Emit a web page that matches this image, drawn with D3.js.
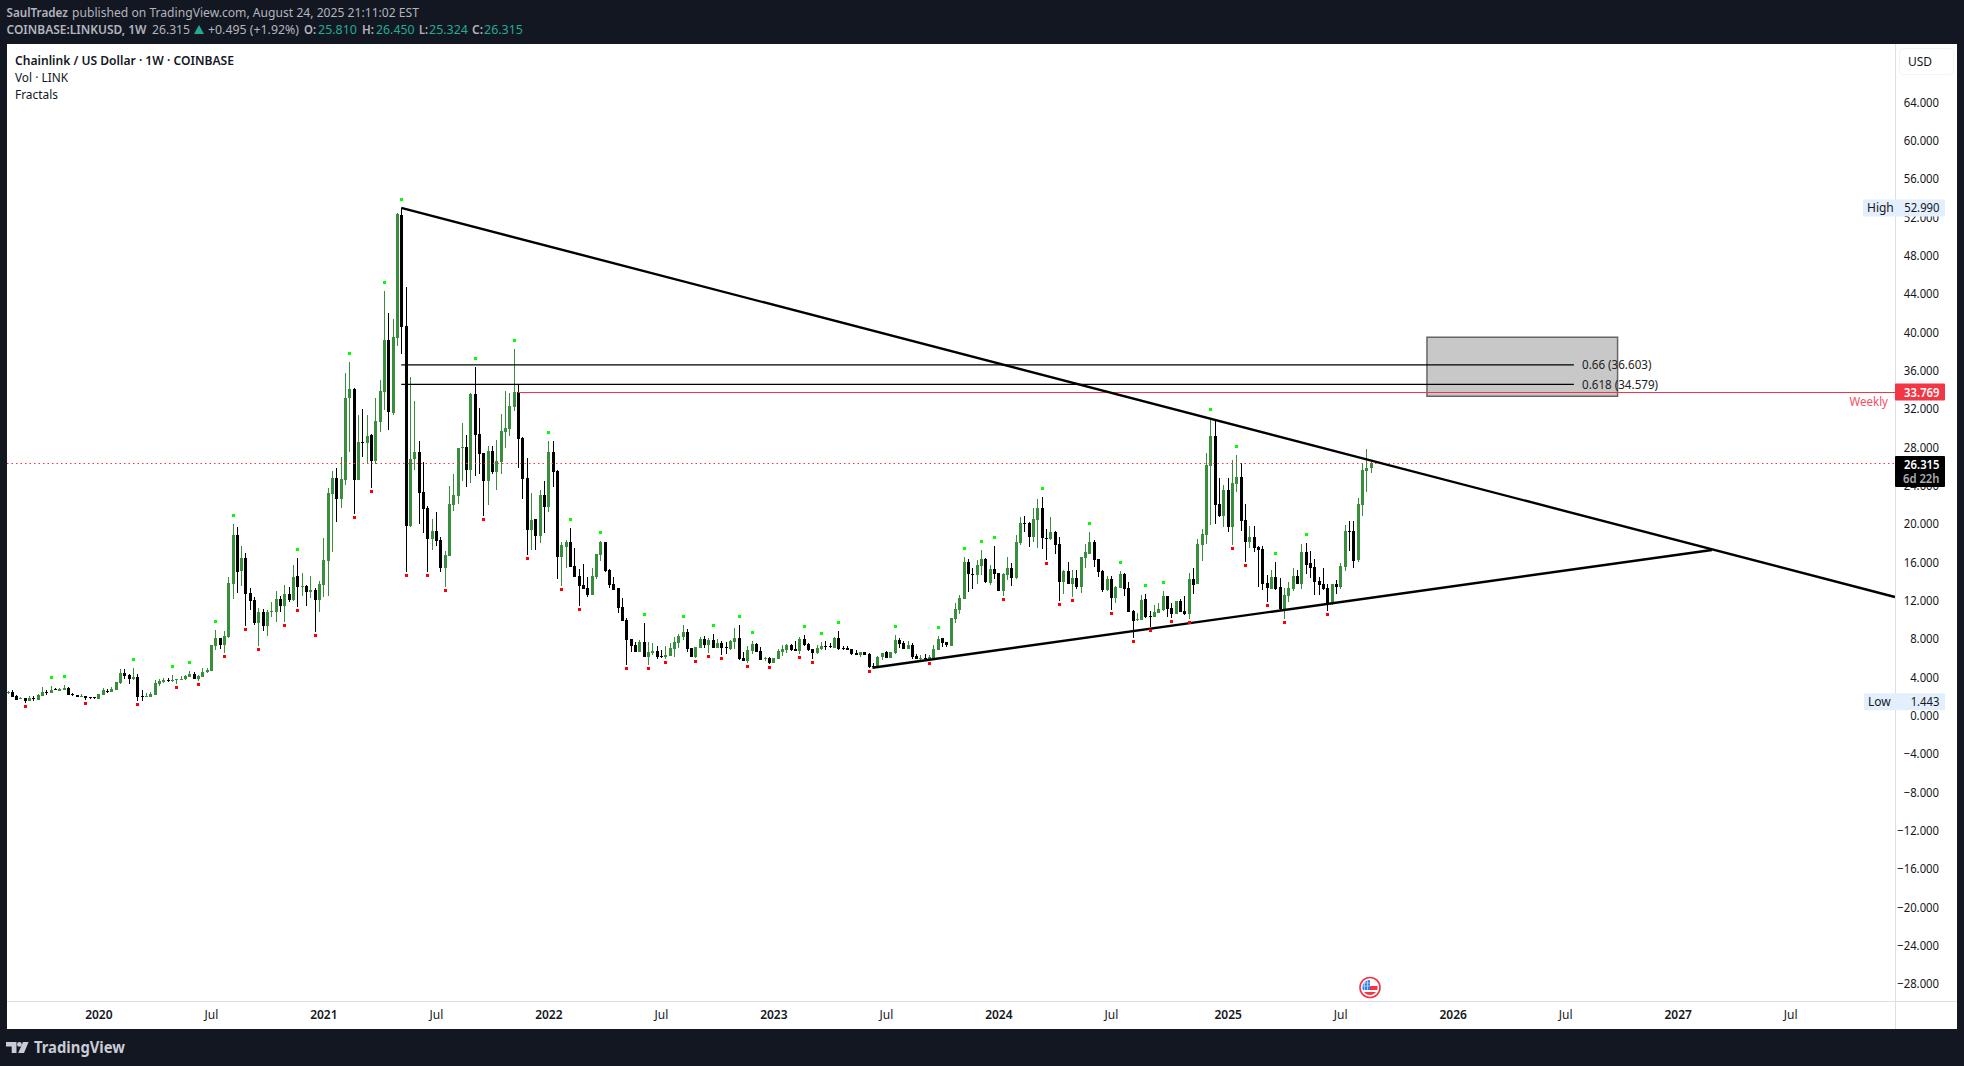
<!DOCTYPE html>
<html>
<head>
<meta charset="utf-8">
<script src="https://d3js.org/d3.v7.min.js"></script>
<style>
  html, body { margin: 0; padding: 0; background: #131722; }
  svg { display: block; }
  text { font-family: "Noto Sans", sans-serif; }
</style>
</head>
<body>
<script>
var w = 1964;
var h = 1066;

// weekly candles, one row = ten weeks
var opens = [
  2.40,2.45,2.09,1.80,1.79,1.54,1.83,1.68,2.09,2.44,
  2.38,2.73,2.60,2.67,2.89,2.25,2.12,2.03,2.01,1.89,
  1.89,1.76,2.20,2.58,2.49,2.71,3.41,4.47,4.25,3.77,
  4.03,2.07,2.03,1.98,2.20,3.33,3.52,3.76,3.70,3.75,
  3.79,3.77,4.03,4.32,3.81,4.06,4.50,4.69,7.25,8.09,
  7.40,8.20,13.73,18.86,15.09,16.44,12.82,12.08,9.67,10.80,
  9.30,10.85,10.80,12.16,11.46,12.71,12.08,14.57,13.37,13.51,
  12.85,13.11,12.08,13.62,16.15,23.14,24.79,22.56,24.61,33.17,
  34.09,24.61,28.56,28.45,29.29,26.58,30.65,33.80,39.22,31.60,
  39.44,52.25,40.68,19.77,26.73,27.54,23.36,21.68,18.38,19.26,
  18.34,15.45,16.66,21.97,22.92,27.95,28.05,25.67,33.58,29.40,
  27.43,24.53,27.61,25.45,26.47,29.60,29.92,32.21,33.77,28.98,
  24.79,19.37,20.49,18.75,23.03,21.77,27.52,25.53,16.55,17.60,
  18.12,15.61,14.57,13.62,13.32,12.59,14.43,16.76,18.12,15.20,
  13.73,13.32,11.33,9.97,7.96,7.36,6.63,7.68,6.12,6.53,
  6.74,6.22,6.12,6.22,6.95,7.57,8.20,8.73,7.05,6.12,
  7.05,8.00,7.36,7.89,7.05,7.58,7.18,6.95,7.68,8.10,
  6.01,5.70,6.74,7.47,6.74,5.90,6.01,5.49,5.91,6.63,
  6.85,7.36,6.95,6.74,8.00,7.47,6.95,6.53,6.95,7.29,
  7.29,7.05,8.10,7.03,7.05,6.95,6.53,6.33,6.63,6.43,
  5.22,5.18,6.12,6.63,6.01,6.53,7.89,7.58,6.95,7.36,
  6.22,5.94,5.97,5.80,6.01,6.85,8.10,7.68,7.26,10.08,
  11.02,12.16,16.03,14.83,14.67,15.61,16.35,13.84,15.30,14.88,
  13.01,14.67,15.41,14.36,18.02,20.10,20.10,18.64,20.41,21.67,
  18.56,18.43,19.16,17.91,13.94,15.09,13.73,14.36,13.42,16.45,
  16.86,18.12,16.34,15.09,13.11,14.25,12.27,13.32,14.78,13.32,
  10.92,9.98,9.98,12.17,10.43,10.29,10.71,11.02,12.48,11.23,
  10.60,11.96,10.92,10.60,14.25,13.73,17.80,18.85,26.09,29.18,
  22.05,20.83,23.55,19.69,24.17,24.91,20.41,18.12,18.64,17.60,
  17.39,13.84,13.21,14.46,13.42,11.02,12.48,13.21,14.57,13.73,
  17.07,15.93,15.51,14.05,13.73,13.32,11.65,13.73,13.42,15.51,
  19.27,19.27,16.24,21.98,25.53,25.81
];
var highs = [
  2.55,2.67,2.15,1.95,1.82,2.05,2.05,2.25,3.00,2.64,
  3.08,2.89,2.90,3.19,3.00,2.38,2.15,2.23,2.03,1.90,
  1.90,2.25,2.89,2.78,3.00,3.55,4.87,4.83,4.39,4.98,
  4.36,2.67,2.31,2.42,3.70,3.77,3.88,3.95,4.25,3.80,
  4.17,4.20,4.61,4.54,4.20,4.98,4.98,7.40,8.93,8.15,
  8.82,14.46,19.99,19.70,17.72,16.99,13.33,12.38,11.24,11.13,
  11.02,11.86,13.00,12.49,13.62,13.44,15.71,16.44,14.90,13.60,
  14.54,13.33,14.06,18.53,23.76,25.52,25.81,26.99,35.77,36.91,
  34.16,31.38,32.00,31.38,29.37,33.17,35.04,44.34,42.04,41.41,
  52.47,52.99,44.75,35.33,32.84,28.67,26.47,21.90,20.54,21.24,
  18.64,17.17,23.98,25.23,27.90,30.54,29.29,33.69,36.40,32.11,
  27.43,28.16,28.16,28.74,31.47,33.88,33.67,38.23,34.58,29.05,
  26.89,23.23,20.55,23.55,24.48,28.70,28.66,25.60,18.12,18.33,
  19.58,17.49,15.30,15.82,14.46,15.40,16.90,18.20,18.12,15.27,
  14.46,13.32,12.27,10.19,7.98,7.68,7.85,9.67,7.65,7.58,
  7.26,6.85,7.26,7.58,8.20,8.52,9.46,9.04,7.10,7.20,
  8.20,8.31,8.10,8.52,8.00,7.79,7.68,7.89,9.14,9.46,
  6.64,7.26,7.79,7.58,7.16,6.12,6.12,6.01,6.95,7.36,
  7.47,7.47,7.79,8.20,8.41,7.58,6.95,7.36,7.68,7.79,
  7.54,8.20,8.83,7.26,7.26,6.95,6.85,6.60,6.63,6.53,
  5.49,6.22,6.53,6.74,6.63,8.41,8.10,7.79,7.79,7.58,
  6.43,6.33,6.43,6.33,7.36,8.31,8.10,7.68,10.19,11.75,
  12.59,16.55,16.34,15.41,16.24,17.28,16.45,15.72,17.70,14.88,
  14.90,16.55,15.90,18.84,20.73,20.83,20.21,21.67,22.60,22.81,
  19.48,20.73,19.27,18.64,15.20,16.03,15.20,15.20,16.55,17.91,
  19.16,18.33,16.34,15.20,14.57,14.57,13.53,15.09,14.88,13.94,
  11.02,10.71,12.59,12.69,10.92,11.54,11.75,13.00,12.48,11.75,
  11.96,12.17,12.48,14.88,15.41,18.43,19.47,27.37,31.03,30.85,
  24.77,24.07,24.77,26.68,27.20,26.36,22.08,19.79,19.79,17.70,
  17.70,14.67,15.20,16.03,14.36,13.32,13.94,15.41,15.20,17.91,
  18.01,17.18,16.34,14.46,15.41,13.73,13.73,14.15,15.93,19.89,
  20.31,20.31,22.71,26.26,27.81,26.45
];
var lows = [
  2.23,1.94,1.68,1.75,1.35,1.50,1.57,1.65,2.05,2.16,
  2.35,2.67,2.55,2.65,2.20,2.05,1.98,1.98,1.68,1.72,
  1.72,1.74,2.18,2.31,2.45,2.69,3.33,3.84,3.33,3.75,
  1.57,1.57,1.98,1.95,2.18,3.04,3.44,3.52,3.52,3.30,
  3.75,3.75,4.00,3.84,3.63,4.03,4.48,4.67,6.88,6.99,
  6.55,8.13,12.16,12.82,13.55,9.30,11.06,9.48,7.29,8.82,
  8.35,10.29,9.81,10.77,9.81,11.86,12.01,11.35,12.49,11.46,
  12.27,8.71,10.84,12.38,12.49,17.06,20.21,21.68,24.02,27.54,
  21.05,24.61,26.99,26.33,23.76,26.25,29.62,31.89,29.81,31.38,
  38.59,37.75,14.98,19.70,25.67,19.99,19.08,14.98,17.28,17.65,
  14.98,13.44,16.66,21.38,22.08,24.50,23.87,24.28,25.01,25.23,
  20.83,21.97,25.23,23.54,25.21,27.93,29.18,31.80,25.88,22.60,
  16.76,17.28,17.28,18.01,19.05,21.25,23.86,14.26,13.53,15.37,
  15.50,14.46,11.43,13.21,12.38,12.59,14.26,16.15,14.98,13.32,
  13.11,10.74,9.86,5.28,6.66,6.63,6.63,6.12,5.25,6.29,
  5.94,6.05,5.87,6.22,6.12,7.05,7.89,6.63,6.12,6.00,
  7.05,7.05,6.53,7.05,7.05,6.33,6.43,6.85,6.95,5.80,
  5.70,5.49,6.43,6.63,5.80,5.70,5.38,5.49,5.91,6.22,
  6.53,6.74,6.74,6.43,7.26,6.74,5.91,6.43,6.85,6.85,
  7.05,7.05,6.85,6.85,6.85,6.33,6.33,6.12,6.33,4.96,
  4.96,5.18,5.80,6.01,6.01,6.43,7.05,6.95,6.95,5.91,
  5.91,5.73,5.80,5.80,5.91,6.85,7.16,7.16,7.26,9.66,
  10.60,12.16,12.91,13.21,13.73,14.67,13.84,13.63,14.25,13.01,
  12.49,14.15,13.53,14.25,17.80,19.16,17.60,18.12,17.49,17.39,
  16.24,18.33,16.86,11.96,12.69,13.73,12.38,13.21,12.80,15.41,
  16.86,15.50,14.46,12.90,13.00,11.02,11.75,13.32,12.49,10.81,
  8.10,9.87,9.98,10.19,9.25,10.29,10.71,10.92,10.29,10.19,
  10.60,10.81,10.50,10.08,12.69,13.73,16.14,17.90,19.89,19.99,
  20.72,19.69,19.20,17.80,23.33,19.27,16.03,17.49,17.07,13.42,
  13.11,11.86,13.21,13.11,10.92,10.08,11.86,13.00,13.73,13.21,
  14.78,14.36,12.59,12.59,13.11,10.91,11.50,12.69,13.21,15.09,
  17.18,15.41,16.03,20.83,23.33,25.32
];
var closes = [
  2.45,1.94,1.68,1.85,1.50,1.83,1.72,2.16,2.45,2.40,
  2.67,2.69,2.82,2.89,2.20,2.21,1.98,2.07,1.87,1.85,
  1.85,2.23,2.67,2.54,2.78,3.52,4.47,4.17,3.77,4.03,
  1.98,2.03,2.07,2.23,3.41,3.63,3.73,3.72,3.76,3.79,
  3.83,4.14,4.36,3.84,4.14,4.54,4.76,7.36,8.09,7.36,
  8.31,13.84,18.86,15.01,16.44,12.74,12.01,9.70,10.80,9.30,
  10.80,10.93,12.16,11.46,12.71,12.08,14.46,13.37,13.51,12.85,
  13.07,12.08,13.73,16.26,23.25,24.79,22.56,24.72,33.17,34.09,
  24.61,28.56,28.48,29.18,26.58,30.76,33.87,39.22,31.64,39.51,
  52.40,40.61,19.81,26.80,27.54,23.25,21.60,18.38,19.26,18.23,
  15.42,16.77,22.08,23.03,27.90,28.01,25.67,33.58,29.33,27.32,
  24.53,27.61,25.45,26.58,29.70,30.01,32.31,33.77,28.87,24.69,
  19.37,20.41,18.75,23.03,21.77,27.52,25.43,16.55,17.80,18.12,
  15.50,14.46,13.53,13.21,12.59,14.57,16.86,18.12,15.09,13.62,
  13.11,11.23,9.86,7.89,7.26,6.63,7.68,6.12,6.60,6.74,
  6.12,6.16,6.33,7.05,7.68,8.31,8.73,6.95,6.12,7.15,
  8.00,7.36,7.89,7.05,7.58,7.05,7.12,7.79,8.10,5.91,
  5.70,6.85,7.47,6.63,5.80,5.97,5.49,5.97,6.74,6.95,
  7.36,6.85,6.74,8.00,7.36,6.85,6.53,7.05,7.26,7.24,
  7.24,8.10,6.95,6.98,6.85,6.43,6.33,6.60,6.33,5.07,
  5.18,6.12,6.50,6.01,6.63,7.89,7.47,6.95,7.36,6.12,
  5.91,5.99,5.92,6.12,6.95,8.00,7.58,7.36,10.19,11.12,
  12.27,16.03,14.78,14.78,15.72,16.35,13.94,15.30,14.78,13.01,
  14.78,15.41,14.36,18.12,20.10,20.03,18.64,20.52,21.67,18.53,
  18.50,19.16,17.80,13.94,15.09,13.73,14.36,13.42,16.55,17.07,
  18.12,16.24,14.98,13.11,14.25,12.27,13.42,14.78,13.21,10.81,
  9.87,10.08,12.06,10.29,10.36,10.81,11.12,12.48,11.12,10.60,
  11.96,10.81,10.60,14.25,13.63,17.91,18.96,26.19,29.18,21.98,
  20.83,23.55,19.72,24.28,24.91,20.32,18.12,18.64,17.49,17.28,
  13.73,13.32,14.46,13.21,11.13,12.59,13.32,14.57,13.73,17.07,
  15.72,15.41,13.94,13.63,13.21,11.65,13.73,13.42,15.62,19.27,
  19.20,16.14,22.08,25.63,25.84,26.315
];

// weeks that carry a fractal mark
var fractalUp = [10,13,29,38,42,48,52,67,79,87,91,108,117,125,130,137,147,156,163,169,172,184,188,192,205,215,221,225,228,239,250,257,263,267,278,284,293,300];
var fractalDown = [4,18,30,39,44,50,55,58,64,67,71,80,84,92,97,101,110,120,128,132,143,148,152,159,162,165,171,176,183,186,199,213,230,240,243,246,255,260,264,269,273,283,286,291,295,305];

// axis ticks
var priceTicks = [64,60,56,52,48,44,40,36,32,28,24,20,16,12,8,4,0,-4,-8,-12,-16,-20,-24,-28];
var timeTickWeeks = [21,47,73,99,125,151,177,203,229,255,282,308,334,360,386,412];
var timeTickLabels = ["2020","Jul","2021","Jul","2022","Jul","2023","Jul","2024","Jul","2025","Jul","2026","Jul","2027","Jul"];

// drawings, as [week, price]
var fallingLine = [[91,52.99],[436.2,12.38]];
var risingLine = [[199.9,5.0],[393.9,17.29]];
var fibLevels = [0.66,0.618];
var fibPrices = [36.603,34.579];
var fibStartWeek = 91;
var fibEndWeek = 362;
var boxWeeks = [328.05,372.1];
var boxPrices = [39.49,33.33];
var weeklyLevel = 33.769;
var weeklyStartWeek = 118;
var lastPrice = 26.315;
var highPrice = 52.99;
var lowPrice = 1.443;

var upColor = "#388e3c";
var downColor = "#000000";
var bg = "#131722";
var red = "#f23645";

var left = 7, top_ = 44, right = 1957, bottom = 1029, plotRight = 1895, timeTop = 1001;

var x = d3.scaleLinear().domain([0,315]).range([7.5,1370.5]);
var y = d3.scaleLinear().domain([0,64]).range([715.6,102.4]);

var svg = d3.select("body").append("svg")
  .attr("width", w)
  .attr("height", h);

// squeeze text sideways, the original font runs narrower than Noto Sans
function squeeze(sel, k) {
  sel.each(function() {
    d3.select(this)
      .attr("textLength", this.getComputedTextLength() * k)
      .attr("lengthAdjust", "spacingAndGlyphs");
  });
  return sel;
}
function fitTo(sel, len) {
  return sel.attr("textLength", len).attr("lengthAdjust", "spacingAndGlyphs");
}

svg.append("rect").attr("width", w).attr("height", h).attr("fill", bg);
svg.append("rect")
  .attr("x", left).attr("y", top_)
  .attr("width", right-left).attr("height", bottom-top_)
  .attr("fill", "#fff");

// grey box behind everything else
svg.append("rect")
  .attr("x", x(boxWeeks[0])).attr("y", y(boxPrices[0]))
  .attr("width", x(boxWeeks[1])-x(boxWeeks[0]))
  .attr("height", y(boxPrices[1])-y(boxPrices[0]))
  .attr("fill", "#c8c8c8")
  .attr("stroke", "#666")
  .attr("stroke-width", 1.5);

var weeks = d3.range(opens.length);
var candle = svg.append("g").attr("shape-rendering", "crispEdges");
function col(i) { return closes[i] >= opens[i] ? upColor : downColor; }

candle.selectAll(".wick")
  .data(weeks)
  .enter()
  .append("rect")
  .attr("class", "wick")
  .attr("x", function(i) { return Math.round(x(i)); })
  .attr("y", function(i) { return y(highs[i]); })
  .attr("width", 1)
  .attr("height", function(i) { return y(lows[i]) - y(highs[i]); })
  .attr("fill", col);

candle.selectAll(".body")
  .data(weeks)
  .enter()
  .append("rect")
  .attr("class", "body")
  .attr("x", function(i) { return Math.round(x(i)) - 1; })
  .attr("y", function(i) { return y(Math.max(opens[i],closes[i])); })
  .attr("width", 3)
  .attr("height", function(i) { return Math.max(1, Math.abs(y(opens[i]) - y(closes[i]))); })
  .attr("fill", col);

// dotted last price line and weekly level
svg.append("line")
  .attr("x1", left).attr("x2", plotRight)
  .attr("y1", Math.round(y(lastPrice))+0.5).attr("y2", Math.round(y(lastPrice))+0.5)
  .attr("stroke", red).attr("stroke-dasharray", "1.5 3");
svg.append("line")
  .attr("x1", x(weeklyStartWeek)).attr("x2", plotRight)
  .attr("y1", Math.round(y(weeklyLevel))+0.5).attr("y2", Math.round(y(weeklyLevel))+0.5)
  .attr("stroke", red);

// fib levels
svg.selectAll(".fib")
  .data(fibPrices)
  .enter()
  .append("line")
  .attr("class", "fib")
  .attr("x1", x(fibStartWeek)).attr("x2", x(fibEndWeek))
  .attr("y1", function(d) { return y(d); })
  .attr("y2", function(d) { return y(d); })
  .attr("stroke", "#000")
  .attr("stroke-width", 1.2);
var fibText = svg.selectAll(".fibLabel")
  .data(fibPrices)
  .enter()
  .append("text")
  .attr("class", "fibLabel")
  .attr("x", 1582)
  .attr("y", function(d) { return y(d) + 4.5; })
  .attr("font-size", 12.5)
  .attr("fill", "#222")
  .text(function(d,i) { return fibLevels[i] + " (" + d.toFixed(3) + ")"; });
squeeze(fibText, 0.93);

// trend lines
var trend = d3.line()
  .x(function(d) { return x(d[0]); })
  .y(function(d) { return y(d[1]); });
svg.selectAll(".trend")
  .data([fallingLine, risingLine])
  .enter()
  .append("path")
  .attr("class", "trend")
  .attr("d", trend)
  .attr("fill", "none")
  .attr("stroke", "#000")
  .attr("stroke-width", 2.4);

// fractals
var marks = svg.append("g").attr("shape-rendering", "crispEdges");
marks.selectAll(".up")
  .data(fractalUp)
  .enter()
  .append("rect")
  .attr("class", "up")
  .attr("x", function(i) { return Math.round(x(i)) - 1; })
  .attr("y", function(i) { return Math.round(y(highs[i])) - 10; })
  .attr("width", 3).attr("height", 3)
  .attr("fill", "#00ff00");
marks.selectAll(".down")
  .data(fractalDown)
  .enter()
  .append("rect")
  .attr("class", "down")
  .attr("x", function(i) { return Math.round(x(i)) - 1; })
  .attr("y", function(i) { return Math.round(y(lows[i])) + 2; })
  .attr("width", 3).attr("height", 3)
  .attr("fill", "#ff0000");

// axes
svg.append("line").attr("x1", plotRight+0.5).attr("x2", plotRight+0.5)
  .attr("y1", top_).attr("y2", bottom).attr("stroke", "#dcdfe6");
svg.append("line").attr("x1", left).attr("x2", right)
  .attr("y1", timeTop+0.5).attr("y2", timeTop+0.5).attr("stroke", "#dcdfe6");

var yAxis = svg.append("g")
  .attr("transform", "translate(1939,0)")
  .call(d3.axisRight(y).tickValues(priceTicks).tickSize(0).tickPadding(0).tickFormat(d3.format(".3f")));
yAxis.select(".domain").remove();
squeeze(yAxis.selectAll("text")
  .attr("text-anchor", "end")
  .attr("font-family", '"Noto Sans", sans-serif')
  .attr("font-size", 12)
  .attr("fill", "#131722"), 0.94);

var xAxis = svg.append("g")
  .attr("transform", "translate(0,1010)")
  .call(d3.axisBottom(x).tickValues(timeTickWeeks).tickSize(0).tickPadding(0)
    .tickFormat(function(d,i) { return timeTickLabels[i]; }));
xAxis.select(".domain").remove();
xAxis.selectAll("text")
  .attr("font-family", '"Noto Sans", sans-serif')
  .attr("font-size", 12)
  .attr("font-weight", function(d,i) { return timeTickLabels[i] === "Jul" ? 400 : 600; })
  .attr("fill", "#131722");

// USD button
svg.append("rect").attr("x", 1899.5).attr("y", 48.5).attr("width", 54).attr("height", 26)
  .attr("rx", 4).attr("fill", "#fff").attr("stroke", "#f0f3fa");
svg.append("text").attr("x", 1908).attr("y", 66).attr("font-size", 12).attr("fill", "#131722").text("USD");

// price tags
function tag(price, x0, x1, name, value, fill, color, weight) {
  var yy = y(price);
  svg.append("rect").attr("x", x0).attr("y", yy-8.5).attr("width", x1-x0).attr("height", 17).attr("rx", 1).attr("fill", fill);
  if (name) {
    svg.append("text").attr("x", x0+4).attr("y", yy+4).attr("font-size", 12).attr("fill", color).text(name);
  }
  squeeze(svg.append("text").attr("x", 1939.5).attr("y", yy+4.5).attr("text-anchor", "end")
    .attr("font-size", 12).attr("font-weight", weight).attr("fill", color).text(value.toFixed(3)), 0.94);
}
tag(highPrice, 1863, 1945, "High", highPrice, "#e3effd", "#131722", 400);
tag(lowPrice, 1864, 1945, "Low", lowPrice, "#e3effd", "#131722", 400);
tag(weeklyLevel, 1895, 1945, null, weeklyLevel, red, "#fff", 600);

svg.append("rect").attr("x", 1895).attr("y", 456).attr("width", 50).attr("height", 31)
  .attr("rx", 1).attr("fill", "#000");
squeeze(svg.append("text").attr("x", 1939.5).attr("y", 468.5).attr("text-anchor", "end")
  .attr("font-size", 12).attr("font-weight", 600).attr("fill", "#fff").text(lastPrice.toFixed(3)), 0.94);
squeeze(svg.append("text").attr("x", 1939.5).attr("y", 483).attr("text-anchor", "end")
  .attr("font-size", 12).attr("font-weight", 600).attr("fill", "#a8abb3").text("6d 22h"), 0.94);

squeeze(svg.append("text").attr("x", 1888).attr("y", 406).attr("text-anchor", "end")
  .attr("font-size", 12).attr("fill", "#f4515f").text("Weekly"), 0.96);

// legend inside the chart
var legendRows = ["Chainlink / US Dollar · 1W · COINBASE","Vol · LINK","Fractals"];
var legendWidths = [219,53,43];
var legend = svg.selectAll(".legend")
  .data(legendRows)
  .enter()
  .append("text")
  .attr("class", "legend")
  .attr("x", 15)
  .attr("y", function(d,i) { return 64.5 + i*17; })
  .attr("font-size", 12.5)
  .attr("font-weight", function(d,i) { return i == 0 ? 600 : 400; })
  .attr("fill", "#131722")
  .attr("lengthAdjust", "spacingAndGlyphs")
  .attr("textLength", function(d,i) { return legendWidths[i]; })
  .text(function(d) { return d; });

// header lines, every piece placed on its own so the columns line up
var gray = "#b2b5be";
var teal = "#22ab94";
var headRow1 = [
  ["SaulTradez", 600, gray, 6.5, 61.5],
  ["published on TradingView.com, August 24, 2025 21:11:02 EST", 400, gray, 72, 347]
];
var headRow2 = [
  ["COINBASE:LINKUSD, 1W", 600, gray, 6.5, 140],
  ["26.315", 400, gray, 152, 38],
  ["+0.495 (+1.92%)", 400, gray, 208, 91],
  ["O:", 600, gray, 304, 12], ["25.810", 400, teal, 318, 39],
  ["H:", 600, gray, 362, 12], ["26.450", 400, teal, 376, 38.5],
  ["L:", 600, gray, 419, 9], ["25.324", 400, teal, 429, 39],
  ["C:", 600, gray, 472, 11], ["26.315", 400, teal, 484, 39]
];
function headRow(rows, baseline) {
  svg.selectAll(null)
    .data(rows)
    .enter()
    .append("text")
    .attr("x", function(d) { return d[3]; })
    .attr("y", baseline)
    .attr("font-size", 12.5)
    .attr("font-weight", function(d) { return d[1]; })
    .attr("fill", function(d) { return d[2]; })
    .attr("lengthAdjust", "spacingAndGlyphs")
    .attr("textLength", function(d) { return d[4]; })
    .text(function(d) { return d[0]; });
}
headRow(headRow1, 17);
headRow(headRow2, 34);
svg.append("path").attr("d", "M199 25l5 9h-10z").attr("fill", teal);

// TradingView logo at the bottom
var logo = svg.append("g").attr("fill", "#c9ccd4");
logo.append("path").attr("d", "M6 1042h10.5v11h-4.8v-6.5H6z");
logo.append("circle").attr("cx", 19.4).attr("cy", 1044.4).attr("r", 2.4);
logo.append("path").attr("d", "M23 1042h5.6l-4.6 11h-5.8z");
fitTo(svg.append("text").attr("x", 34).attr("y", 1052.5).attr("font-size", 15.5)
  .attr("font-family", "Lato, sans-serif").attr("font-weight", 700).attr("fill", "#c9ccd4").text("TradingView"), 91);

// economic event flag
var flag = svg.append("g").attr("transform", "translate(1370,987.5)");
flag.append("circle").attr("r", 10).attr("fill", "#fff").attr("stroke", red).attr("stroke-width", 1.6);
flag.append("clipPath").attr("id", "flagClip").append("circle").attr("r", 7.6);
var flagBody = flag.append("g").attr("clip-path", "url(#flagClip)");
flagBody.append("rect").attr("x", -8).attr("y", -8).attr("width", 16).attr("height", 16).attr("fill", "#fff");
flagBody.append("rect").attr("x", 0).attr("y", -1.5).attr("width", 8).attr("height", 4).attr("fill", red);
flagBody.append("rect").attr("x", -8).attr("y", 4.5).attr("width", 16).attr("height", 3.5).attr("fill", red);
flagBody.append("rect").attr("x", -8).attr("y", -8).attr("width", 8).attr("height", 10.5).attr("fill", "#2f80ed");
flagBody.append("path").attr("d", "M-5.5-8v10.5M-2.5-8v10.5M-8-4.5h8M-8-1.5h8")
  .attr("stroke", "#cfe3fb").attr("stroke-width", 0.7).attr("fill", "none");
</script>
</body>
</html>
